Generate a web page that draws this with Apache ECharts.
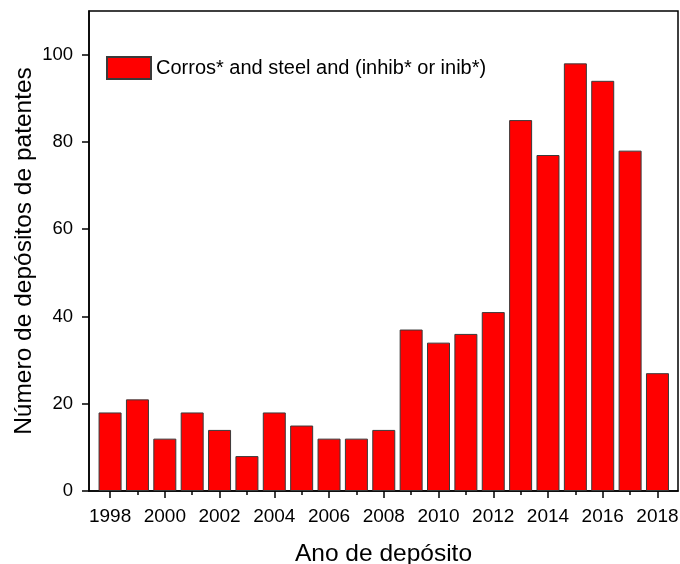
<!DOCTYPE html>
<html>
<head>
<meta charset="utf-8">
<script src="https://cdn.jsdelivr.net/npm/echarts@6/dist/echarts.min.js"></script>
<style>
  html, body { margin: 0; padding: 0; background: #fff; }
  #chart { width: 680px; height: 564px; }
</style>
</head>
<body>
<div id="chart"></div>
<script>
// Patent filings per year
const years = [1998, 1999, 2000, 2001, 2002, 2003, 2004, 2005, 2006, 2007, 2008,
               2009, 2010, 2011, 2012, 2013, 2014, 2015, 2016, 2017, 2018];
const counts = [18, 21, 12, 18, 14, 8, 18, 15, 12, 12, 14,
                37, 34, 36, 41, 85, 77, 98, 94, 78, 27];
const majorYears = [1998, 2000, 2002, 2004, 2006, 2008, 2010, 2012, 2014, 2016, 2018];
const minorYears = [1999, 2001, 2003, 2005, 2007, 2009, 2011, 2013, 2015, 2017];
const yTicks = [0, 20, 40, 60, 80, 100];
const seriesName = 'Corros* and steel and (inhib* or inib*)';

const font = '"Liberation Sans", Arial, sans-serif';
const xMin = 1997.23, xMax = 2018.75;

const chart = echarts.init(document.getElementById('chart'), null, { renderer: 'canvas' });
chart.setOption({
  animation: false,
  backgroundColor: '#fff',
  grid: {
    left: 89, right: 2, top: 11, bottom: 73,
    containLabel: false, outerBoundsMode: 'none',
    show: true, borderColor: '#000', borderWidth: 1.5, backgroundColor: 'transparent'
  },
  legend: {
    show: true,
    left: 106, top: 56, padding: 0,
    itemWidth: 44, itemHeight: 22,
    textStyle: { fontFamily: font, fontSize: 20, color: '#000' },
    data: [{ name: seriesName, icon: 'rect' }]
  },
  xAxis: [
    {
      type: 'value', min: xMin, max: xMax,
      name: 'Ano de depósito', nameLocation: 'middle', nameGap: 51, nameMoveOverlap: false,
      nameTextStyle: { fontFamily: font, fontSize: 24.5, color: '#000' },
      axisLine: { show: true, lineStyle: { color: '#000', width: 1.5 } },
      axisTick: { show: true, inside: false, length: 7, lineStyle: { color: '#000', width: 1.5 },
                  customValues: majorYears },
      axisLabel: { show: true, fontFamily: font, fontSize: 19, color: '#000', margin: 16,
                   customValues: majorYears, formatter: v => String(v) },
      splitLine: { show: false }
    },
    {
      type: 'value', min: xMin, max: xMax, position: 'bottom',
      axisLine: { show: false },
      axisTick: { show: true, length: 4, lineStyle: { color: '#000', width: 1.5 },
                  customValues: minorYears },
      axisLabel: { show: false },
      splitLine: { show: false }
    }
  ],
  yAxis: {
    type: 'value', min: 0, max: 110,
    name: 'Número de depósitos de patentes', nameLocation: 'middle', nameGap: 52, nameMoveOverlap: false,
    nameTextStyle: { fontFamily: font, fontSize: 24.5, color: '#000' },
    axisLine: { show: true, lineStyle: { color: '#000', width: 1.5 } },
    axisTick: { show: true, length: 7, lineStyle: { color: '#000', width: 1.5 },
                customValues: yTicks },
    axisLabel: { show: true, fontFamily: font, fontSize: 18.5, color: '#000', margin: 16,
                 customValues: yTicks },
    splitLine: { show: false }
  },
  series: [{
    name: seriesName,
    type: 'bar',
    xAxisIndex: 0,
    barWidth: 23,
    data: years.map((y, i) => [y, counts[i]]),
    itemStyle: { color: '#ff0000', borderColor: '#3a3a3a', borderWidth: 1 }
  }]
});
</script>
</body>
</html>
